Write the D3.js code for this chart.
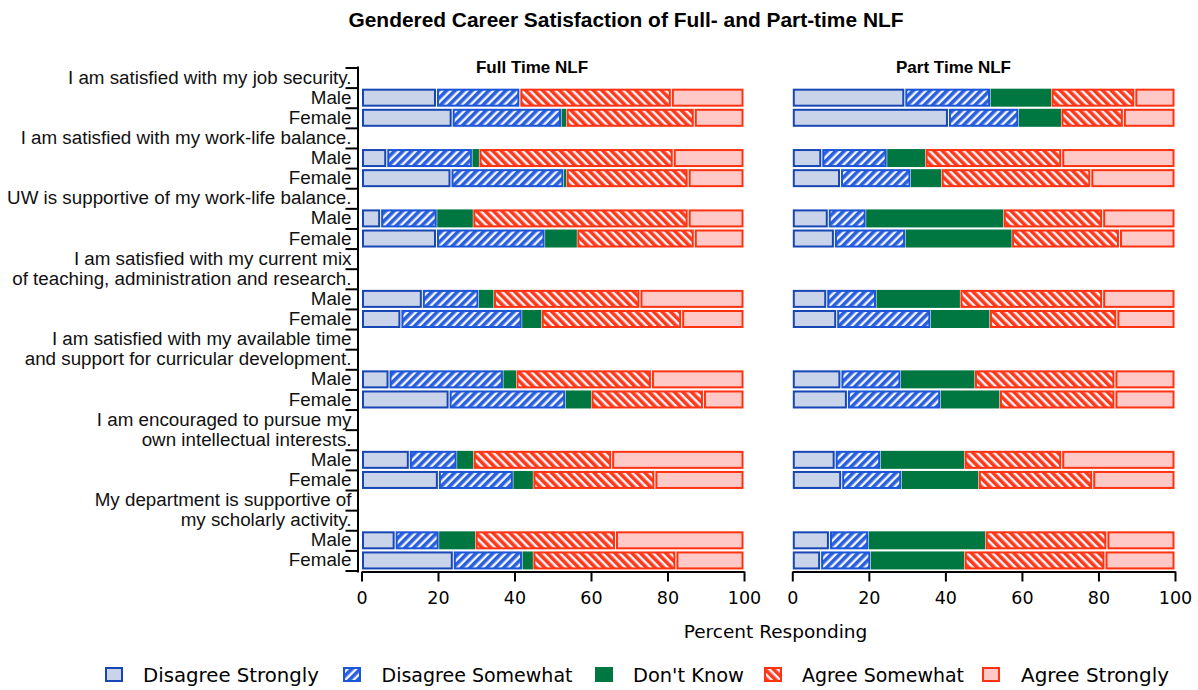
<!DOCTYPE html>
<html>
<head>
<meta charset="utf-8">
<script src="https://cdn.jsdelivr.net/npm/d3@7"></script>
<style>
  html, body { margin: 0; padding: 0; background: #fff; }
  svg { display: block; }
</style>
</head>
<body>
<svg id="chart" width="1198" height="690"></svg>
<script>
// ---------------- DATA ----------------
const categories = ["Disagree Strongly", "Disagree Somewhat", "Don't Know", "Agree Somewhat", "Agree Strongly"];
const genders = ["Male", "Female"];
const questions = [
  ["I am satisfied with my job security."],
  ["I am satisfied with my work-life balance."],
  ["UW is supportive of my work-life balance."],
  ["I am satisfied with my current mix", "of teaching, administration and research."],
  ["I am satisfied with my available time", "and support for curricular development."],
  ["I am encouraged to pursue my", "own intellectual interests."],
  ["My department is supportive of", "my scholarly activity."]
];
const panelTitles = ["Full Time NLF", "Part Time NLF"];
const xTicks = [0, 20, 40, 60, 80, 100];

// Values per row in order Q1 Male, Q1 Female, Q2 Male, Q2 Female, ...
const fullDisagreeStrongly = [19.6, 23.7, 6.6, 23.4, 5.0, 19.6, 15.9, 10.3, 7.2, 22.9, 12.5, 20.1, 8.8, 24.0];
const fullDisagreeSomewhat = [21.8, 28.6, 22.4, 29.5, 14.8, 28.4, 14.8, 31.7, 29.9, 30.5, 12.5, 19.6, 11.5, 18.1];
const fullDontKnow         = [0.0, 1.2, 1.7, 0.6, 9.3, 8.3, 3.8, 5.0, 3.3, 6.6, 4.2, 5.1, 9.4, 2.7];
const fullAgreeSomewhat    = [39.6, 33.5, 50.8, 31.9, 56.3, 30.7, 38.3, 36.7, 35.4, 29.4, 36.2, 31.9, 36.7, 37.4];
const fullAgreeStrongly    = [19.0, 13.0, 18.5, 14.6, 14.6, 13.0, 27.2, 16.3, 24.2, 10.6, 34.6, 23.3, 33.6, 17.8];

const partDisagreeStrongly = [29.4, 40.8, 7.7, 12.6, 9.4, 11.0, 9.0, 11.6, 12.7, 14.4, 11.2, 12.9, 9.7, 7.4];
const partDisagreeSomewhat = [22.4, 18.4, 17.1, 18.4, 9.9, 18.6, 13.0, 24.6, 15.7, 24.4, 11.9, 15.7, 10.3, 13.1];
const partDontKnow         = [15.8, 11.0, 9.9, 7.9, 35.8, 27.7, 21.8, 15.3, 19.2, 15.3, 21.8, 20.0, 30.4, 24.4];
const partAgreeSomewhat    = [21.9, 16.3, 35.7, 39.1, 26.0, 28.2, 37.3, 33.3, 36.7, 30.2, 25.5, 29.9, 31.8, 36.8];
const partAgreeStrongly    = [10.5, 13.5, 29.6, 22.0, 18.9, 14.5, 18.9, 15.2, 15.7, 15.7, 29.6, 21.5, 17.8, 18.3];

// ---------------- BUILD ----------------
const panelSeries = [
  [fullDisagreeStrongly, fullDisagreeSomewhat, fullDontKnow, fullAgreeSomewhat, fullAgreeStrongly],
  [partDisagreeStrongly, partDisagreeSomewhat, partDontKnow, partAgreeSomewhat, partAgreeStrongly]
];

// rows: header lines then Male/Female
const rows = [];
const barRows = [];
questions.forEach((lines, qi) => {
  lines.forEach((ln, li) => rows.push({ id: `q${qi}h${li}`, label: ln }));
  genders.forEach((g, gi) => {
    const id = `q${qi}${g}`;
    rows.push({ id, label: g });
    barRows.push({ id, idx: qi * 2 + gi });
  });
});

const svg = d3.select("#chart");
const defs = svg.append("defs");

const styles = [
  { fill: "#c9d3ea", stroke: "#1746b5" },
  { fill: "url(#hatchBlue)", stroke: "#1b55d8" },
  { fill: "#007640", stroke: "none" },
  { fill: "url(#hatchRed)", stroke: "#ff3311" },
  { fill: "#ffc9c7", stroke: "#ff3311" }
];

function hatch(id, color, angle) {
  const p = defs.append("pattern").attr("id", id)
    .attr("patternUnits", "userSpaceOnUse")
    .attr("width", 6).attr("height", 6)
    .attr("patternTransform", `rotate(${angle})`);
  p.append("rect").attr("width", 6).attr("height", 6).attr("fill", "#f4f6fd");
  p.append("rect").attr("width", 3.6).attr("height", 6).attr("fill", color);
}
hatch("hatchBlue", "#2a60de", 45);
hatch("hatchRed", "#ff3a1a", -45);

const y = d3.scaleBand().domain(rows.map(r => r.id)).range([67.5, 570.5]).padding(0);
const yLin = d3.scaleLinear().domain([0, rows.length]).range([67.5, 570.5]);
const xScales = [
  d3.scaleLinear().domain([0, 100]).range([361.5, 744]),
  d3.scaleLinear().domain([0, 100]).range([792.3, 1175])
];
const axisY = 571.5;
const barH = 18;

// Title
svg.append("text")
  .attr("x", 626).attr("y", 27)
  .attr("text-anchor", "middle")
  .attr("textLength", 555).attr("lengthAdjust", "spacingAndGlyphs")
  .style("font-family", "'Liberation Sans', Arial, sans-serif")
  .style("font-weight", "bold").style("font-size", "20px").attr("fill", "#000")
  .text("Gendered Career Satisfaction of Full- and Part-time NLF");

// Panel titles
const panelTitleX = [532, 953.5];
panelTitles.forEach((t, i) => {
  svg.append("text")
    .attr("x", panelTitleX[i]).attr("y", 73)
    .attr("text-anchor", "middle")
    .style("font-family", "'Liberation Sans', Arial, sans-serif")
    .style("font-weight", "bold").style("font-size", "17px").attr("fill", "#000")
    .text(t);
});

// Bars
panelSeries.forEach((series, pi) => {
  const x = xScales[pi];
  const table = barRows.map(br => {
    const o = { id: br.id };
    categories.forEach((c, ci) => o[c] = series[ci][br.idx]);
    return o;
  });
  const stacked = d3.stack().keys(categories)(table);
  const g = svg.append("g");
  stacked.forEach((layer, ci) => {
    const st = styles[ci];
    g.selectAll(null).data(layer.filter(d => d[1] - d[0] > 0)).join("rect")
      .attr("x", d => st.stroke === "none" ? x(d[0]) : x(d[0]) + 1.5)
      .attr("width", d => Math.max(0, st.stroke === "none" ? x(d[1]) - x(d[0]) : x(d[1]) - x(d[0]) - 3))
      .attr("y", d => y(d.data.id) + y.bandwidth() / 2 - barH / 2 + (st.stroke === "none" ? 0 : 1))
      .attr("height", st.stroke === "none" ? barH : barH - 2)
      .attr("fill", st.fill)
      .attr("stroke", st.stroke)
      .attr("stroke-width", 2);
  });

  // x axis
  const ax = svg.append("g").attr("transform", `translate(0,${axisY})`)
    .call(d3.axisBottom(x).tickValues(xTicks).tickSize(10).tickSizeOuter(0).tickPadding(10));
  ax.select(".domain").attr("stroke", "#000").attr("stroke-width", 2);
  ax.selectAll(".tick line").attr("stroke", "#000").attr("stroke-width", 2);
  ax.selectAll(".tick text")
    .style("font-family", "'DejaVu Sans', sans-serif").style("font-size", "17.5px").attr("fill", "#000");
});

// y axis: ticks at band boundaries
const yAx = svg.append("g").attr("transform", "translate(357.5,0)")
  .call(d3.axisLeft(yLin).tickValues(d3.range(rows.length + 1)).tickFormat("").tickSize(12).tickSizeOuter(0));
yAx.select(".domain").attr("stroke", "#000").attr("stroke-width", 2)
  .attr("d", `M0.5,${yLin(0) - 1}V${axisY + 1}`);
yAx.selectAll(".tick line").attr("stroke", "#000").attr("stroke-width", 2);

// y labels
const yLab = svg.append("g").attr("transform", "translate(357.5,0)")
  .call(d3.axisLeft(y).tickSize(0).tickPadding(6).tickFormat(id => rows.find(r => r.id === id).label));
yLab.select(".domain").remove();
yLab.selectAll(".tick text")
  .style("font-family", "'Liberation Sans', Arial, sans-serif").style("font-size", "18.8px").attr("fill", "#111");

// x axis title
svg.append("text")
  .attr("x", 775.5).attr("y", 638)
  .attr("text-anchor", "middle")
  .style("font-family", "'DejaVu Sans', sans-serif").style("font-size", "18.5px").attr("fill", "#000")
  .text("Percent Responding");

// legend
const legSwX = [105, 343, 595, 764, 982];
const legTxX = [143, 381.5, 633, 802, 1021];
const legTxW = [176, 191, 111, 162, 148];
categories.forEach((c, i) => {
  const st = styles[i];
  const g = svg.append("g");
  g.append("rect")
    .attr("x", legSwX[i] + 1).attr("y", 668)
    .attr("width", 16).attr("height", 13)
    .attr("fill", st.fill)
    .attr("stroke", st.stroke === "none" ? "#007640" : st.stroke)
    .attr("stroke-width", 2);
  g.append("text")
    .attr("x", legTxX[i]).attr("y", 675).attr("dy", "0.36em")
    .attr("textLength", legTxW[i]).attr("lengthAdjust", "spacingAndGlyphs")
    .style("font-family", "'DejaVu Sans', sans-serif").style("font-size", "19.5px").attr("fill", "#000")
    .text(c);
});
</script>
</body>
</html>
